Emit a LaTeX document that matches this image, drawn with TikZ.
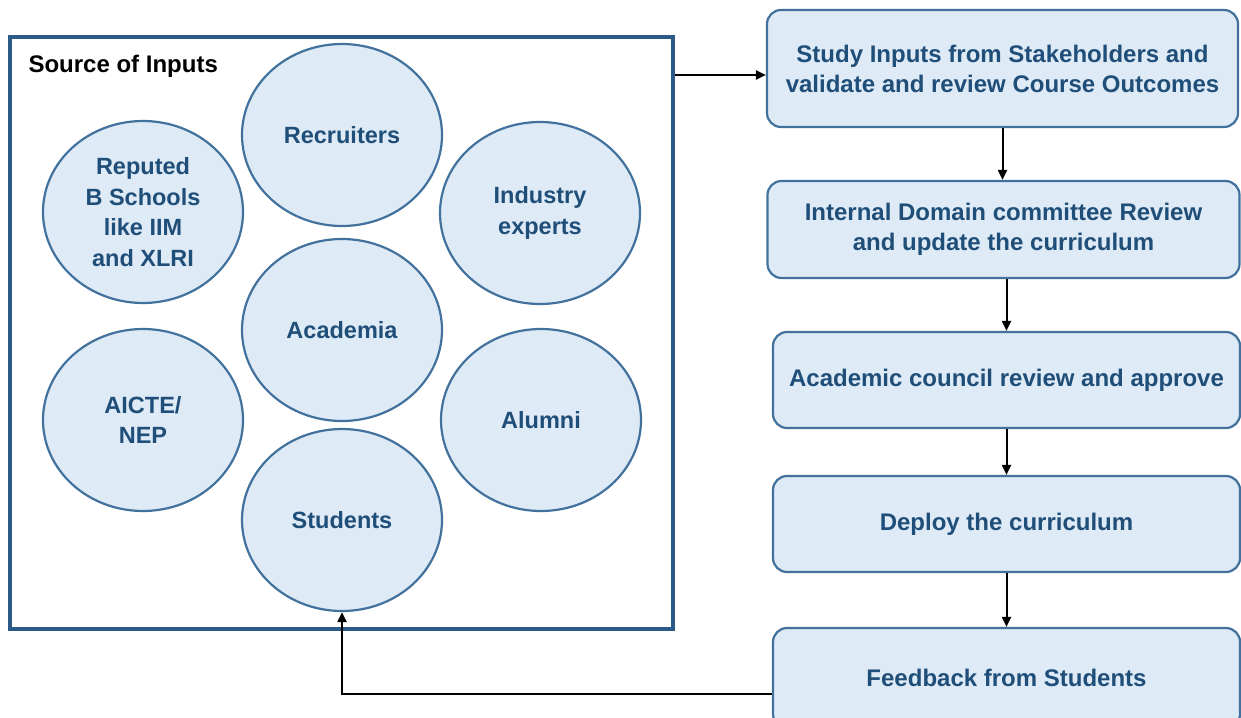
\documentclass[tikz,border=0pt]{standalone}
\usepackage{fontspec}
\setmainfont{Liberation Sans}
\usetikzlibrary{arrows.meta,positioning,shapes.geometric,calc}
\definecolor{frameblue}{HTML}{2B5A87}
\definecolor{edgeblue}{HTML}{41719C}
\definecolor{paleblue}{HTML}{DEEAF6}
\definecolor{inkblue}{HTML}{1F4E79}
\tikzset{
  src/.style={ellipse,draw=edgeblue,fill=paleblue,line width=2.2pt,minimum width=200pt,minimum height=182pt,inner sep=0pt,align=center,text=inkblue,font=\bfseries\fontsize{23.5}{30.5}\selectfont},
  stage/.style={rounded corners=14pt,draw=edgeblue,fill=paleblue,line width=2.2pt,inner sep=0pt,align=center,text=inkblue,font=\bfseries\fontsize{24}{30}\selectfont},
  ar/.style={-{Triangle[length=10pt,width=9pt]},draw=black,line width=2pt},
}

\begin{document}
\begin{tikzpicture}[x=1pt,y=-1pt]
  \useasboundingbox (0,0) rectangle (1241,717);
  \clip (0,0) rectangle (1241,717);
  % sources of input
  \node[draw=frameblue,line width=3.4pt,minimum width=663pt,minimum height=592pt] (frame) at (341.5,333) {};
  \node[anchor=west,font=\bfseries\fontsize{24}{28}\selectfont] (title) at (25,66) {Source of Inputs};
  \foreach \n/\x/\y/\t in {rec/342/135/Recruiters, bsch/143/212/{Reputed\\B Schools\\like IIM\\and XLRI}, ind/540/213/{Industry\\experts}, acad/342/330/Academia, aicte/143/420/{AICTE/\\NEP}, alum/541/420/Alumni, stu/342/520/Students} {
     \node[src] (\n) at (\x,\y) {\t};
  }
  % review cycle
  \node[stage,minimum width=471pt,minimum height=117pt] (b1) at (1002.5,68.5) {Study Inputs from Stakeholders and\\validate and review Course Outcomes};
  \node[stage,minimum width=472pt,minimum height=97pt] (b2) at (1003.5,229.5) {Internal Domain committee Review\\and update the curriculum};
  \node[stage,minimum width=467pt,minimum height=96pt] (b3) at (1006.5,380) {Academic council review and approve};
  \node[stage,minimum width=467pt,minimum height=96pt] (b4) at (1006.5,524) {Deploy the curriculum};
  \node[stage,minimum width=467pt,minimum height=100pt] (b5) at (1006.5,678) {Feedback from Students};
  % connectors
  \coordinate (tap) at ([yshift=-6.5pt]b1.west -| frame.east);
  \coordinate (fb) at ([yshift=-16pt]b5.west);
  \draw[ar] (tap) -- (tap -| b1.west);
  \draw[ar] (b1.south) -- (b1.south |- b2.north);
  \draw[ar] (b3.north |- b2.south) -- (b3.north);
  \draw[ar] (b3) -- (b4);
  \draw[ar] (b4) -- (b5);
  \draw[ar] (fb) -| (stu.south);
\end{tikzpicture}
\end{document}
